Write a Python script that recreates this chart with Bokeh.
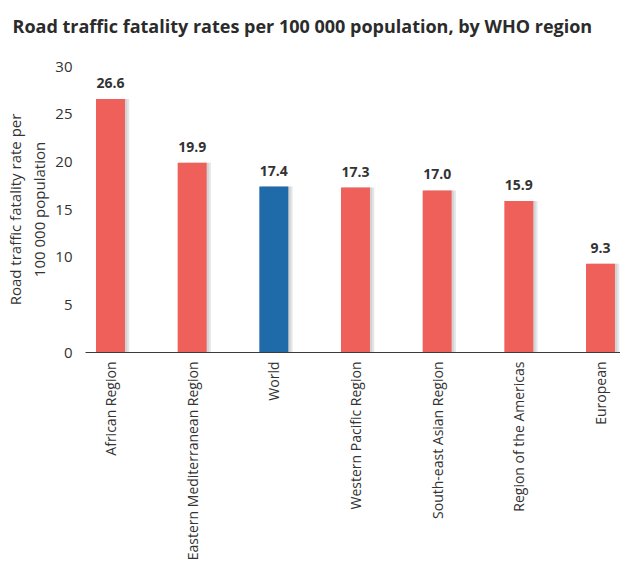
import math
from bokeh.plotting import figure
from bokeh.models import Range1d, FixedTicker, ColumnDataSource, Title
from bokeh.transform import dodge
from bokeh.core.properties import value
from bokeh.embed import file_html
from bokeh.resources import INLINE

# ---- data ----
title_text = "Road traffic fatality rates per 100 000 population, by WHO region"
regions = ["African Region", "Eastern Mediterranean Region", "World",
           "Western Pacific Region", "South-east Asian Region",
           "Region of the Americas", "European"]
rates = [26.6, 19.9, 17.4, 17.3, 17.0, 15.9, 9.3]
rate_labels = ["26.6", "19.9", "17.4", "17.3", "17.0", "15.9", "9.3"]
highlight = [False, False, True, False, False, False, False]
y_ticks = [0, 5, 10, 15, 20, 25, 30]

RED = "#f0605b"
BLUE = "#1f6aa8"
FONT = "Open Sans"
TXT = "#333333"

xs = list(range(len(regions)))
source = ColumnDataSource(dict(
    x=xs, rate=rates, label=rate_labels,
    color=[BLUE if h else RED for h in highlight],
))

p = figure(width=620, height=568,
           x_range=Range1d(-0.306, 6.245), y_range=Range1d(0, 30),
           output_backend="svg", toolbar_location=None,
           min_border_left=85, min_border_right=0, min_border_top=66,
           min_border_bottom=216, title=title_text)

p.title.text_font = FONT
p.title.text_font_size = "18px"
p.title.text_font_style = "bold"
p.title.text_color = "#2b2b2b"
p.title.align = "left"
p.title.offset = -73
p.title.standoff = 4

# blank spacer between the title and the plot frame
p.add_layout(Title(text=" ", text_font_size="22px", standoff=0), "above")

p.outline_line_color = None
p.background_fill_color = "white"
p.xgrid.grid_line_color = None
p.ygrid.grid_line_color = None

# shadows
p.vbar(x=dodge("x", 0.05, range=p.x_range), top="rate", width=0.36, bottom=0,
       source=source, fill_color="#9a9a9a", fill_alpha=0.25, line_color=None)
p.vbar(x=dodge("x", 0.025, range=p.x_range), top="rate", width=0.36, bottom=0,
       source=source, fill_color="#9a9a9a", fill_alpha=0.25, line_color=None)
# bars
p.vbar(x="x", top="rate", width=0.355, bottom=0, source=source,
       fill_color="color", line_color=None)

p.text(x="x", y="rate", text="label", source=source,
       text_align="center", text_baseline="bottom", y_offset=-11,
       text_font=value(FONT), text_font_size="14px", text_font_style="bold",
       text_color=TXT)

# y axis
ya = p.yaxis[0]
ya.ticker = FixedTicker(ticks=y_ticks)
ya.axis_line_color = None
ya.major_tick_line_color = None
ya.minor_tick_line_color = None
ya.major_tick_out = 0
ya.major_tick_in = 0
ya.major_label_standoff = 13
ya.major_label_text_font = FONT
ya.major_label_text_font_size = "15px"
ya.major_label_text_color = TXT
ya.axis_label = "Road traffic fatality rate per\n100 000 population"
ya.axis_label_text_font = FONT
ya.axis_label_text_font_size = "15px"
ya.axis_label_text_font_style = "normal"
ya.axis_label_text_color = TXT
ya.axis_label_standoff = 3

# x axis
xa = p.xaxis[0]
xa.ticker = FixedTicker(ticks=xs)
xa.major_label_overrides = {i: r for i, r in zip(xs, regions)}
xa.major_label_orientation = math.pi / 2
xa.axis_line_color = "#3a3a3a"
xa.axis_line_width = 1
xa.major_tick_line_color = None
xa.minor_tick_line_color = None
xa.major_tick_out = 0
xa.major_tick_in = 0
xa.major_label_standoff = 9
xa.major_label_text_font = FONT
xa.major_label_text_font_size = "14px"
xa.major_label_text_color = TXT

open("out.html", "w").write(file_html(p, INLINE))
